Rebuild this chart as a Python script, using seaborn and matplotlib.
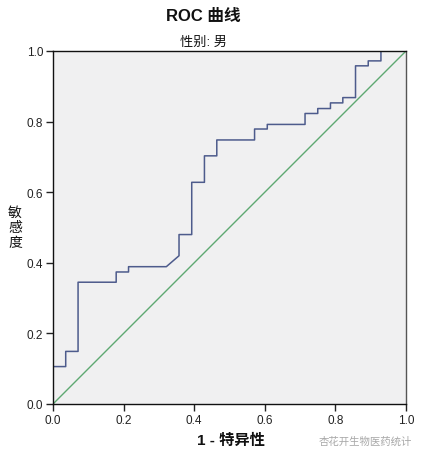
import matplotlib
matplotlib.use("Agg")
import matplotlib.pyplot as plt
import seaborn as sns
import pandas as pd

# ROC curve vertices (1 - specificity, sensitivity)
fpr = [0.0, 0.0, 0.036, 0.036, 0.071, 0.071, 0.179, 0.179, 0.214, 0.214, 0.321,
       0.357, 0.357, 0.393, 0.393, 0.429, 0.429, 0.464, 0.464, 0.571, 0.571,
       0.607, 0.607, 0.714, 0.714, 0.750, 0.750, 0.786, 0.786, 0.821, 0.821,
       0.857, 0.857, 0.893, 0.893, 0.929, 0.929, 1.0]
tpr = [0.0, 0.106, 0.106, 0.149, 0.149, 0.345, 0.345, 0.374, 0.374, 0.389, 0.389,
       0.420, 0.480, 0.480, 0.628, 0.628, 0.703, 0.703, 0.748, 0.748, 0.779,
       0.779, 0.792, 0.792, 0.823, 0.823, 0.837, 0.837, 0.853, 0.853, 0.868,
       0.868, 0.958, 0.958, 0.972, 0.972, 1.0, 1.0]
ref_x = [0.0, 1.0]
ref_y = [0.0, 1.0]
ticks = [0.0, 0.2, 0.4, 0.6, 0.8, 1.0]
tick_labels = ["0.0", "0.2", "0.4", "0.6", "0.8", "1.0"]
ylabel_chars = ["敏", "感", "度"]

sns.set_theme(style="white")
fam = ["Liberation Sans", "Noto Sans CJK SC", "DejaVu Sans"]
plt.rcParams["font.family"] = fam

fig = plt.figure(figsize=(4.23, 4.6), dpi=100)
ax = fig.add_axes([53/423, 1-405/460, 353/423, 353/460])
ax.set_facecolor("#F0F0F1")

df = pd.DataFrame({"fpr": fpr, "tpr": tpr})
ref = pd.DataFrame({"x": ref_x, "y": ref_y})
sns.lineplot(data=ref, x="x", y="y", ax=ax, color="#5EA872", lw=1.0,
             sort=False, estimator=None)
sns.lineplot(data=df, x="fpr", y="tpr", ax=ax, color="#4D5B8C", lw=1.1,
             sort=False, estimator=None)

ax.set_xlim(0, 1)
ax.set_ylim(0, 1)
ax.set_xticks(ticks)
ax.set_xticklabels(tick_labels)
ax.set_yticks(ticks)
ax.set_yticklabels(tick_labels)
ax.tick_params(axis="both", which="both", direction="out", length=5, width=1,
               color="#222222", labelsize=8.5, labelcolor="#222222", pad=2,
               left=True, bottom=True)
for s in ["left", "bottom", "top"]:
    ax.spines[s].set_color("#111111")
    ax.spines[s].set_linewidth(1.0)
ax.spines["right"].set_color("#555555")
ax.spines["right"].set_linewidth(1.0)
ax.set_xlabel("")
ax.set_ylabel("")

fig.text(203/423, 1-16/460, "ROC 曲线", ha="center", va="center",
         fontsize=12, fontweight="bold", color="#111111")
fig.text(203/423, 1-43/460, "性别: 男", ha="center", va="center",
         fontsize=9.5, color="#111111")
fig.text(231/423, 1-441/460, "1 - 特异性", ha="center", va="center",
         fontsize=11, fontweight="bold", color="#111111")
for i, ch in enumerate(ylabel_chars):
    fig.text(15/423, 1-(213 + 15*i)/460, ch, ha="center", va="center",
             fontsize=10, color="#111111", family="Noto Sans CJK SC",
             rotation=0)
fig.text(365/423, 1-442/460, "杏花开生物医药统计", ha="center", va="center",
         fontsize=7.5, color="#A8A8A8")

fig.savefig("out.png", dpi=100, facecolor="white")
